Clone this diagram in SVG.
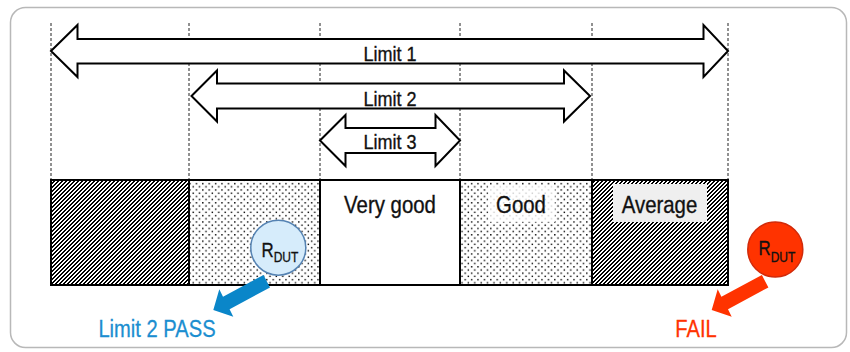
<svg xmlns="http://www.w3.org/2000/svg" width="850" height="352" viewBox="0 0 850 352">
<style>
.lbl{font-family:"Liberation Sans",Arial,sans-serif;fill:#111;stroke:#111;stroke-width:0.35;}
.dash{stroke:#222;stroke-width:1;stroke-dasharray:3,2;fill:none;}
.arrow{fill:#fff;stroke:#000;stroke-width:2;stroke-linejoin:miter;}
.cell{stroke:#000;stroke-width:2;}
</style>
<defs>
<pattern id="hatch" x="0" y="0" width="4" height="4" patternUnits="userSpaceOnUse">
<rect x="0" y="0" width="4" height="4" fill="#fff"/>
<g fill="#000" shape-rendering="crispEdges">
<rect x="2" y="0" width="2" height="1"/>
<rect x="1" y="1" width="2" height="1"/>
<rect x="0" y="2" width="2" height="1"/>
<rect x="3" y="3" width="1" height="1"/>
<rect x="0" y="3" width="1" height="1"/>
</g>
</pattern>
<pattern id="dots" width="6.4" height="6.4" patternUnits="userSpaceOnUse">
<rect x="0" y="0" width="6.4" height="6.4" fill="#fff"/>
<rect x="0.5" y="0.5" width="1.4" height="1.4" fill="#000"/>
<rect x="3.7" y="3.7" width="1.4" height="1.4" fill="#000"/>
</pattern>
</defs>
<rect x="10.5" y="7.5" width="836" height="340" rx="15" fill="#fff" stroke="#b8b8b8" stroke-width="1.5"/>
<g id="guides">
<line class="dash" x1="51" y1="23" x2="51" y2="180"/>
<line class="dash" x1="189" y1="23" x2="189" y2="180"/>
<line class="dash" x1="320" y1="23" x2="320" y2="180"/>
<line class="dash" x1="460" y1="23" x2="460" y2="180"/>
<line class="dash" x1="592" y1="23" x2="592" y2="180"/>
<line class="dash" x1="728" y1="23" x2="728" y2="180"/>
</g>
<g id="bar">
<rect id="zone-fail-left" class="cell" x="51" y="180" width="138" height="105" fill="url(#hatch)"/>
<rect id="zone-limit2-left" class="cell" x="189" y="180" width="131" height="105" fill="url(#dots)"/>
<rect id="zone-verygood" class="cell" x="320" y="180" width="140" height="105" fill="#fff"/>
<rect id="zone-good" class="cell" x="460" y="180" width="132" height="105" fill="url(#dots)"/>
<rect id="zone-average" class="cell" x="592" y="180" width="136" height="105" fill="url(#hatch)"/>
<rect x="488" y="185" width="67" height="37" fill="#fff" opacity="0.8"/>
<rect x="613" y="184" width="94" height="38" fill="#efefef"/>
<text class="lbl" font-size="24" text-anchor="middle" transform="translate(390,212.7) scale(0.85,1)">Very good</text>
<text class="lbl" font-size="24" text-anchor="middle" transform="translate(521,212.7) scale(0.85,1)">Good</text>
<text class="lbl" font-size="24" text-anchor="middle" transform="translate(659.5,212.7) scale(0.85,1)">Average</text>
</g>
<g id="limit1">
<polygon class="arrow" points="51,51 77.5,25 77.5,39 703.5,39 703.5,25 728,51 703.5,77 703.5,63.5 77.5,63.5 77.5,77"/>
<text class="lbl" font-size="21" text-anchor="middle" transform="translate(390,60.7) scale(0.86,1)">Limit 1</text>
</g>
<g id="limit2">
<polygon class="arrow" points="191.5,96 217,70.5 217,83.5 564,83.5 564,70.5 590,96 564,121.5 564,108.5 217,108.5 217,121.5"/>
<text class="lbl" font-size="21" text-anchor="middle" transform="translate(390,106) scale(0.86,1)">Limit 2</text>
</g>
<g id="limit3">
<polygon class="arrow" points="320,140.5 345.5,115 345.5,128 435.5,128 435.5,115 460,140.5 435.5,166 435.5,153 345.5,153 345.5,166"/>
<text class="lbl" font-size="21" text-anchor="middle" transform="translate(390,149.2) scale(0.86,1)">Limit 3</text>
</g>
<g id="connectors">
<polygon id="arrow-pass" fill="#0a86c9" points="263.5,275 270,287.4 229.6,309.2 233.3,316.7 213.3,310 219.3,289.3 223,296.8"/>
<polygon id="arrow-fail" fill="#ff3300" transform="translate(498.4,0)" points="263.5,275 270,287.4 229.6,309.2 233.3,316.7 213.3,310 219.3,289.3 223,296.8"/>
</g>
<g id="rdut-pass">
<circle cx="278.3" cy="247.7" r="27.5" fill="#d6ecfb" stroke="#5583b3" stroke-width="1.5"/>
<text class="lbl" font-size="21" transform="translate(261.5,256.5) scale(0.8,1)">R<tspan font-size="15" dy="5">DUT</tspan></text>
</g>
<g id="rdut-fail">
<circle cx="775.3" cy="249.5" r="27.5" fill="#ff3300" stroke="#d12a0a" stroke-width="1.5"/>
<text class="lbl" font-size="21" transform="translate(758.5,255) scale(0.8,1)">R<tspan font-size="15" dy="7">DUT</tspan></text>
</g>
<g id="result-pass">
<text font-family="Liberation Sans, Arial, sans-serif" font-size="24" fill="#1b8ed0" stroke="#1b8ed0" stroke-width="0.3" text-anchor="middle" transform="translate(157,336.7) scale(0.84,1)">Limit 2 PASS</text>
</g>
<g id="result-fail">
<text font-family="Liberation Sans, Arial, sans-serif" font-size="24" fill="#ff3300" stroke="#ff3300" stroke-width="0.3" text-anchor="middle" transform="translate(696,336.7) scale(0.84,1)">FAIL</text>
</g>
</svg>
